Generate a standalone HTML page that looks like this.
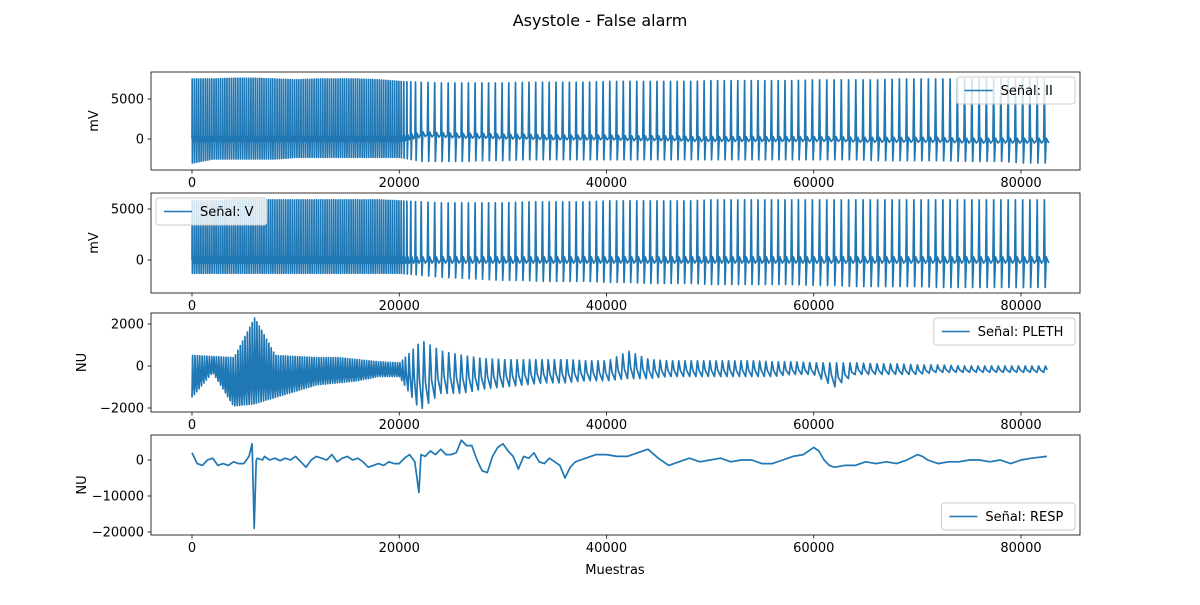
<!DOCTYPE html>
<html><head><meta charset="utf-8"><style>
body{margin:0;background:#fff;}
svg text{font-family:"DejaVu Sans","Liberation Sans",sans-serif;fill:#000;}
</style></head><body>
<svg id="fig" width="1200" height="600" xmlns="http://www.w3.org/2000/svg">
<rect width="1200" height="600" fill="#fff"/>
<text x="600" y="26" font-size="16" text-anchor="middle">Asystole - False alarm</text>
</svg>
<script>
// ---- data (estimated from reference) ----
const xTicks=[0,20000,40000,60000,80000];
const envX=[0,2000,4000,6000,8000,10000,12000,14000,16000,18000,20000,22000,24000,26000,28000,30000,32000,34000,36000,38000,40000,42000,44000,46000,48000,50000,52000,54000,56000,58000,60000,62000,64000,66000,68000,70000,72000,74000,76000,78000,80000,82000];
// ECG II
const iiPeak=[7500,7500,7600,7600,7500,7400,7500,7500,7500,7400,7200,7100,7000,7000,7000,7000,7100,7100,7100,7100,7200,7200,7200,7200,7200,7300,7300,7300,7300,7300,7400,7400,7400,7400,7500,7500,7500,7500,7500,7500,7500,7500];
const iiLow=[-3000,-2500,-2500,-2500,-2500,-2300,-2300,-2300,-2300,-2300,-2300,-2800,-2800,-2800,-2700,-2700,-2600,-2600,-2600,-2600,-2600,-2600,-2600,-2600,-2600,-2600,-2600,-2600,-2600,-2600,-2600,-2600,-2600,-2700,-2700,-2700,-2700,-2800,-2800,-2800,-3000,-3000];
const iiBase=[0,0,0,0,0,0,0,0,0,0,0,600,500,400,400,300,300,200,200,200,200,100,100,100,0,0,0,0,0,0,0,0,-100,-100,-100,-100,-100,-200,-200,-200,-200,-200];
const iiSpacing=[210,210,210,210,210,210,210,210,210,210,210,650,650,650,650,650,650,650,650,650,650,650,650,650,650,650,650,650,650,650,700,700,700,700,700,700,700,700,700,700,700,700];
// ECG V
const vPeak=[5800,5800,5900,5900,5900,5900,5900,5900,5900,5900,5800,5700,5600,5600,5600,5600,5700,5700,5700,5700,5800,5800,5800,5800,5800,5900,5900,5900,5900,5900,5900,5900,5900,5900,5900,5900,5900,5900,5900,5900,5900,5900];
const vLow=[-1300,-1300,-1300,-1300,-1300,-1300,-1300,-1300,-1300,-1300,-1300,-1500,-1700,-1800,-1900,-2000,-2000,-2100,-2100,-2100,-2200,-2200,-2300,-2300,-2300,-2400,-2400,-2400,-2400,-2400,-2500,-2500,-2600,-2600,-2600,-2600,-2700,-2700,-2700,-2700,-2700,-2700];
const vBase=[0,0,0,0,0,0,0,0,0,0,0,0,0,0,0,0,0,0,0,0,0,0,0,0,0,0,0,0,0,0,0,0,0,0,0,0,0,0,0,0,0,0];
const vSpacing=[210,210,210,210,210,210,210,210,210,210,210,650,650,650,650,650,650,650,650,650,650,650,650,650,650,650,650,650,650,650,700,700,700,700,700,700,700,700,700,700,700,700];
// PLETH
const plHi=[500,450,400,2300,500,450,400,400,300,200,150,1200,700,500,350,300,300,300,300,250,250,700,300,250,250,250,250,250,200,200,150,150,150,100,100,50,50,0,0,0,0,0];
const plLo=[-1500,-300,-1900,-1800,-1500,-1200,-900,-800,-700,-500,-500,-2100,-1300,-1300,-1100,-1000,-900,-800,-800,-700,-700,-600,-600,-500,-500,-500,-500,-500,-500,-400,-400,-1000,-400,-400,-400,-400,-300,-300,-300,-300,-300,-300];
const plSpacing=[230,230,230,230,230,230,230,230,230,230,230,600,600,600,600,600,600,600,600,600,600,600,600,600,600,600,600,600,600,600,650,650,650,650,650,650,650,650,650,650,650,650];
// RESP
const rspX=[0,500,1000,1500,2000,2500,3000,3500,4000,4500,5000,5500,5800,6000,6200,6300,6800,7000,7500,8000,8500,9000,9500,10000,10500,11000,11500,12000,12500,13000,13500,14000,14500,15000,15500,16000,16500,17000,17500,18000,18500,19000,19500,20000,20500,21000,21500,21900,22100,22500,23000,23500,24000,24500,25000,25500,26000,26500,27000,27500,28000,28500,29000,29500,30000,30500,31000,31500,32000,32500,33000,33500,34000,34500,35000,35500,36000,36500,37000,37500,38000,39000,40000,41000,42000,43000,44000,45000,46000,47000,48000,49000,50000,51000,52000,53000,54000,55000,56000,57000,58000,59000,60000,60500,61000,61500,62000,63000,64000,65000,66000,67000,68000,69000,70000,70500,71000,72000,73000,74000,75000,76000,77000,78000,79000,80000,81000,82500];
const rspY=[2000,-1000,-1500,0,500,-1500,-1000,-1500,-500,-1000,-1000,1000,4500,-19000,-200,500,0,1000,0,500,-200,500,0,1000,-500,-2000,0,1000,500,0,1500,-500,500,1000,0,500,-500,-2000,-1500,-1000,-1500,-500,-1000,-1000,500,1500,-500,-9000,1500,1000,2500,1500,3000,1500,1500,2000,5500,4000,4000,0,-3000,-3500,1000,3500,4500,2500,1000,-2500,1000,500,2000,-500,-1000,500,-500,-1500,-5000,-2000,-500,0,500,1500,1500,1000,1000,2000,3000,500,-1500,-500,500,-500,0,500,-500,0,0,-1000,-1000,0,1000,1500,3500,2500,0,-1500,-2000,-1500,-1500,-500,-1000,-500,-1000,0,1500,1000,0,-1000,-500,-500,0,0,-500,0,-1000,0,500,1000];
const respTicks=[0,-10000,-20000];
// ---- layout ----
const svg=document.getElementById('fig');const NS='http://www.w3.org/2000/svg';
const X0=151,X1=1080,XMIN=-3956,XMAX=85694;
function sx(v){return X0+(v-XMIN)/(XMAX-XMIN)*(X1-X0);}
function interp(arr,t){if(t<=envX[0])return arr[0];for(let i=1;i<envX.length;i++){if(t<=envX[i]){const f=(t-envX[i-1])/(envX[i]-envX[i-1]);return arr[i-1]+f*(arr[i]-arr[i-1]);}}return arr[arr.length-1];}
function el(tag,attrs,parent){const e=document.createElementNS(NS,tag);for(const k in attrs)e.setAttribute(k,attrs[k]);(parent||svg).appendChild(e);return e;}
function panel(name,top,bot,ymin,ymax,yTicks,ylabel,legendText,legendPos,pts){
 const g=el('g',{});
 
 
 const sy=v=>bot-(v-ymin)/(ymax-ymin)*(bot-top);
 const cp='clip-'+name;
 const c=el('clipPath',{id:cp},g);el('rect',{x:X0,y:top,width:X1-X0,height:bot-top},c);
 const d=pts.map((p,i)=>(i?'L':'M')+sx(p[0]).toFixed(1)+','+sy(p[1]).toFixed(1)).join('');
 const line=el('path',{d:d,fill:'none',stroke:'#1f77b4','stroke-width':1.7,'stroke-linejoin':'round','clip-path':'url(#'+cp+')'},g);
 
 
 const fr=el('rect',{x:X0,y:top,width:X1-X0,height:bot-top,fill:'none',stroke:'#000','stroke-width':0.8},g);
 
 
 xTicks.forEach(t=>{const x=sx(t);el('line',{x1:x,x2:x,y1:bot,y2:bot+3.5,stroke:'#000','stroke-width':0.8},g);
  const tx=el('text',{x:x,y:bot+17,'font-size':13,'text-anchor':'middle'},g);tx.textContent=t;
  
  });
 yTicks.forEach(t=>{const y=sy(t);el('line',{x1:X0,x2:X0-3.5,y1:y,y2:y,stroke:'#000','stroke-width':0.8},g);
  const tx=el('text',{x:X0-7,y:y+4.5,'font-size':13,'text-anchor':'end'},g);tx.textContent=(t<0?'\u2212'+(-t):t);
  
  });
 const yl=el('text',{x:0,y:0,'font-size':13,'text-anchor':'middle',transform:'translate('+(ylabel=='NU'?86:98)+','+((top+bot)/2)+') rotate(-90)'},g);yl.textContent=ylabel;
 
 
 const lg=el('g',{},g);
 
 
 const w=legendText.length*7.6+50;let lx,ly;
 if(legendPos=='ur'){lx=X1-5-w;ly=top+5;}else if(legendPos=='ul'){lx=X0+5;ly=top+5;}else{lx=X1-5-w;ly=bot-5-27;}
 el('rect',{x:lx,y:ly,width:w,height:27,rx:3,fill:'#fff','fill-opacity':0.8,stroke:'#ccc'},lg);
 el('line',{x1:lx+8,x2:lx+36,y1:ly+13.5,y2:ly+13.5,stroke:'#1f77b4','stroke-width':1.5},lg);
 const lt=el('text',{x:lx+44,y:ly+18,'font-size':13},lg);lt.textContent=legendText;
}
function ecgPoints(peak,low,base,spacing){const p=[];let t=0;
 while(t<82500){const b=interp(base,t),s=interp(spacing,t);
  p.push([t,b],[t+s*0.1,interp(peak,t)],[t+s*0.2,interp(low,t)],[t+s*0.35,b+300],[t+s*0.7,b-300]);t+=s;}
 return p;}
function plethPoints(){const p=[];let t=0;
 while(t<82500){const s=interp(plSpacing,t);p.push([t,interp(plLo,t)],[t+s*0.25,interp(plHi,t)],[t+s*0.5,interp(plHi,t)*0.4+interp(plLo,t)*0.6]);t+=s;}return p;}
panel('ii',72,170,-3875,8375,[0,5000],'mV','Señal: II','ur',ecgPoints(iiPeak,iiLow,iiBase,iiSpacing));
panel('v',193,293,-3235,6570,[0,5000],'mV','Señal: V','ul',ecgPoints(vPeak,vLow,vBase,vSpacing));
panel('pleth',313,412,-2190,2524,[-2000,0,2000],'NU','Señal: PLETH','ur',plethPoints());
panel('resp',435,535,-20833,6944,respTicks,'NU','Señal: RESP','lr',rspX.map((x,i)=>[x,rspY[i]]));
const xl=el('text',{x:615,y:574,'font-size':13,'text-anchor':'middle'});xl.textContent='Muestras';


</script>
</body></html>
